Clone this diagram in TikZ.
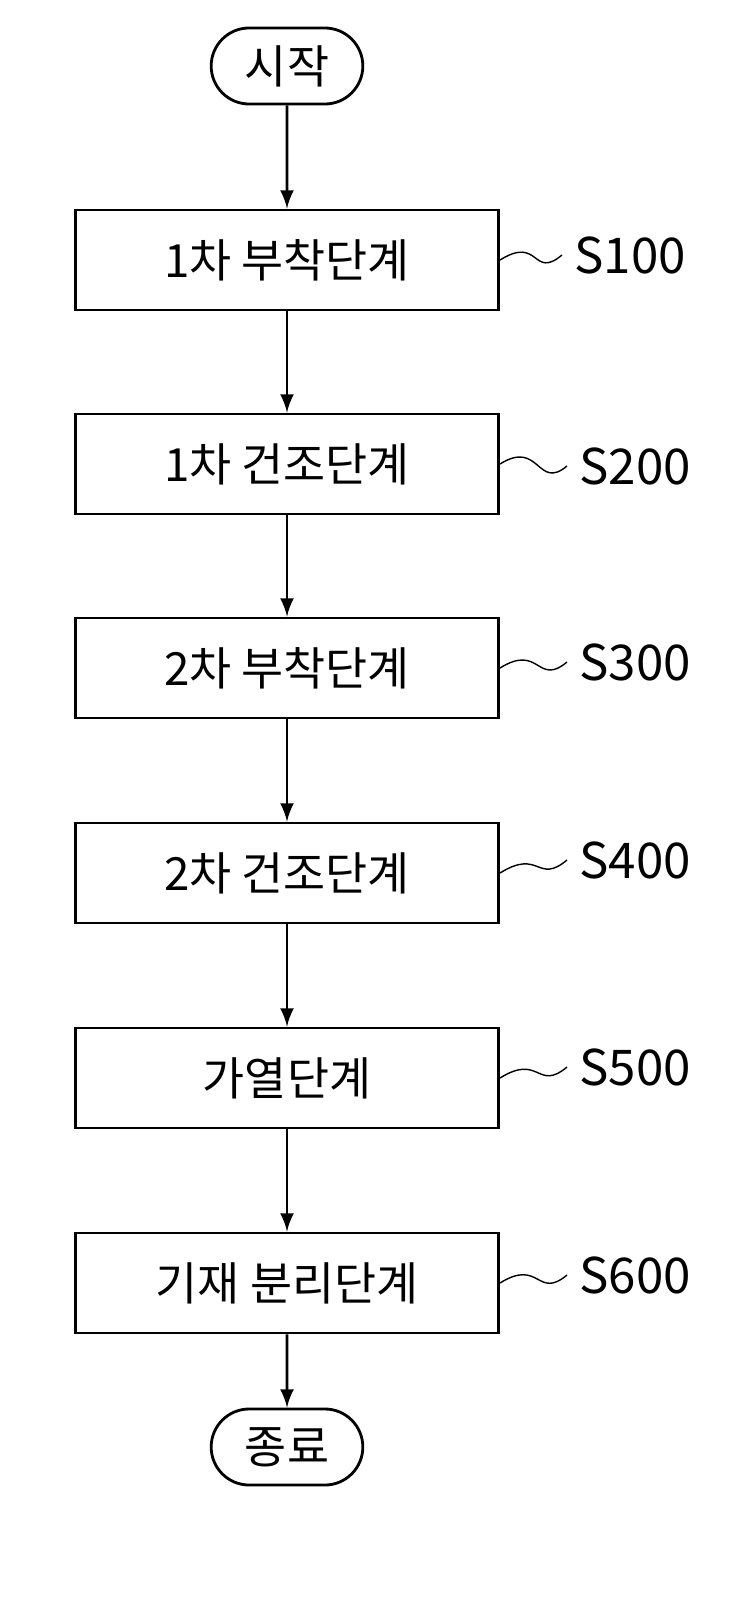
\documentclass[tikz,border=0pt]{standalone}
\usepackage{fontspec}
\setmainfont{Noto Sans CJK KR}
\usetikzlibrary{shapes.misc}
\tikzset{
  stepbox/.style={draw, thick, minimum width=4.23cm, minimum height=1.0cm, font=\fontsize{13}{15}\selectfont},
  term/.style={draw, thick, rounded rectangle, minimum width=1.75cm, minimum height=0.76cm, font=\fontsize{13}{15}\selectfont},
  lab/.style={font=\fontsize{14}{16}\selectfont, anchor=west},
  flow/.style={thick, -latex}
}
\begin{document}
\begin{tikzpicture}[x=0.01cm, y=-0.01cm]
	\useasboundingbox (0,0) rectangle (729,1600);
	%start and end
	\node[term] (start) at (287,66) {시작};
	\node[term] (end) at (287,1447) {종료};
	%steps
	\node[stepbox] (s1) at (287,260) {1차 부착단계};
	\node[stepbox] (s2) at (287,464) {1차 건조단계};
	\node[stepbox] (s3) at (287,668) {2차 부착단계};
	\node[stepbox] (s4) at (287,873) {2차 건조단계};
	\node[stepbox] (s5) at (287,1078) {가열단계};
	\node[stepbox] (s6) at (287,1283) {기재 분리단계};
	%labels
	\node[lab] (l1) at (562,255) {S100};
	\node[lab] (l2) at (567,466) {S200};
	\node[lab] (l3) at (567,662) {S300};
	\node[lab] (l4) at (567,860) {S400};
	\node[lab] (l5) at (567,1067) {S500};
	\node[lab] (l6) at (567,1275) {S600};
	\foreach \a/\b in {s1/l1,s2/l2,s3/l3,s4/l4,s5/l5,s6/l6}
		\draw (\a.east) .. controls +(40,-25) and +(-30,25) .. (\b.west);
	%arrows
	\foreach \a/\b in {start/s1,s1/s2,s2/s3,s3/s4,s4/s5,s5/s6,s6/end}
		\draw[flow] (\a) -- (\b);
\end{tikzpicture}
\end{document}
